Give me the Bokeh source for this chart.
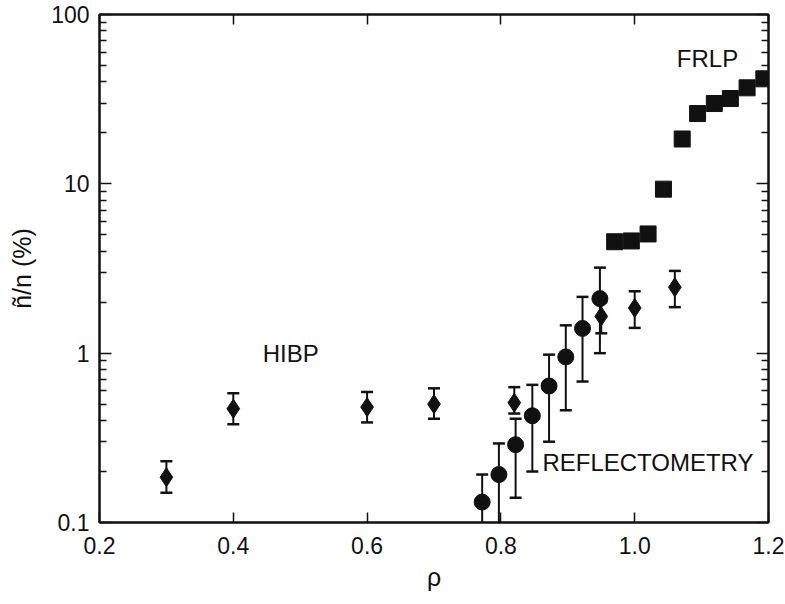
from bokeh.plotting import figure
from bokeh.models import (FixedTicker, PrintfTickFormatter, LinearAxis, LogAxis,
                          CustomJSTickFormatter)
from bokeh.core.properties import value
from bokeh.embed import file_html
from bokeh.resources import INLINE

# ---- data ----
hibp_x = [0.30, 0.40, 0.60, 0.70, 0.82, 0.95, 1.00, 1.06]
hibp_y = [0.185, 0.47, 0.48, 0.50, 0.51, 1.65, 1.85, 2.45]
hibp_hi = [0.23, 0.58, 0.59, 0.62, 0.63, 2.00, 2.32, 3.06]
hibp_lo = [0.15, 0.38, 0.39, 0.41, 0.44, 1.31, 1.41, 1.87]

refl_x = [0.772, 0.797, 0.822, 0.847, 0.872, 0.897, 0.922, 0.948]
refl_y = [0.132, 0.192, 0.288, 0.427, 0.64, 0.95, 1.40, 2.10]
refl_hi = [0.192, 0.293, 0.41, 0.65, 0.98, 1.46, 2.15, 3.20]
refl_lo = [0.06, 0.09, 0.14, 0.20, 0.30, 0.46, 0.68, 1.00]

frlp_x = [0.970, 0.995, 1.020, 1.043, 1.071, 1.094, 1.119, 1.143, 1.168, 1.193]
frlp_y = [4.55, 4.60, 5.06, 9.3, 18.4, 26.0, 29.8, 31.9, 36.9, 41.7]

x_ticks = [0.2, 0.4, 0.6, 0.8, 1.0, 1.2]
y_ticks = [0.1, 1, 10, 100]
y_minor = [m * d for d in (0.1, 1, 10) for m in range(2, 10)]

labels = ["HIBP", "REFLECTOMETRY", "FRLP"]
label_x = [0.444, 0.862, 1.063]
label_y = [0.99, 0.226, 55.0]

FONT = "Liberation Sans"
INK = "#111111"

p = figure(width=785, height=604, y_axis_type="log",
           x_range=(0.2, 1.2), y_range=(0.1, 100),
           output_backend="svg", toolbar_location=None,
           min_border_left=99, min_border_right=17,
           min_border_top=14, min_border_bottom=82)
p.grid.visible = False
p.outline_line_color = INK
p.outline_line_width = 2
p.background_fill_color = "white"
p.border_fill_color = "white"

def style_axis(ax):
    ax.axis_line_color = INK
    ax.axis_line_width = 2
    ax.major_tick_line_color = INK
    ax.minor_tick_line_color = INK
    ax.major_tick_line_width = 1.5
    ax.minor_tick_line_width = 1.5
    ax.major_tick_out = 0
    ax.minor_tick_out = 0
    ax.major_label_text_font = FONT
    ax.major_label_text_font_size = "23px"
    ax.major_label_text_color = INK
    ax.axis_label_text_font = FONT
    ax.axis_label_text_font_style = "normal"
    ax.axis_label_text_color = INK

# bottom x axis
xa = p.xaxis[0]
xa.ticker = FixedTicker(ticks=x_ticks, minor_ticks=[])
xa.formatter = PrintfTickFormatter(format="%.1f")
style_axis(xa)
xa.major_tick_in = 10
xa.minor_tick_in = 0
xa.major_label_standoff = 14
xa.axis_label = "ρ"
xa.axis_label_text_font_size = "25px"
xa.axis_label_standoff = 6

# left y axis
ya = p.yaxis[0]
ya.ticker = FixedTicker(ticks=y_ticks, minor_ticks=y_minor)
ya.formatter = CustomJSTickFormatter(code="return tick.toString();")
style_axis(ya)
ya.major_tick_in = 12
ya.minor_tick_in = 7
ya.major_label_standoff = 10
ya.axis_label = "ñ/n (%)"
ya.axis_label_text_font_size = "25px"
ya.axis_label_standoff = 12

# top and right mirror axes (ticks only, no labels)
blank = CustomJSTickFormatter(code="return '';")
xt = LinearAxis(ticker=FixedTicker(ticks=x_ticks, minor_ticks=[]), formatter=blank)
style_axis(xt)
xt.major_tick_in = 10
xt.minor_tick_in = 0
xt.major_label_standoff = 0
p.add_layout(xt, "above")

yr = LogAxis(ticker=FixedTicker(ticks=y_ticks, minor_ticks=y_minor), formatter=blank)
style_axis(yr)
yr.major_tick_in = 12
yr.minor_tick_in = 7
yr.major_label_standoff = 0
p.add_layout(yr, "right")

# error bars
def errbars(x, lo, hi):
    p.segment(x0=x, y0=lo, x1=x, y1=hi, line_color=INK, line_width=2)
    p.scatter(x=x, y=hi, marker="dash", size=12, line_color=INK, line_width=2.5)
    p.scatter(x=x, y=lo, marker="dash", size=12, line_color=INK, line_width=2.5)

errbars(hibp_x, hibp_lo, hibp_hi)
errbars(refl_x, refl_lo, refl_hi)

p.scatter(x=hibp_x, y=hibp_y, marker="diamond", size=19,
          fill_color=INK, line_color=INK)
p.scatter(x=refl_x, y=refl_y, marker="circle", size=16,
          fill_color=INK, line_color=INK)
p.scatter(x=frlp_x, y=frlp_y, marker="square", size=16,
          fill_color=INK, line_color=INK)

p.text(x=label_x, y=label_y, text=labels, text_font=value(FONT),
       text_font_size="24px", text_color=INK,
       text_align="left", text_baseline="middle")

open("out.html", "w").write(file_html(p, INLINE))
